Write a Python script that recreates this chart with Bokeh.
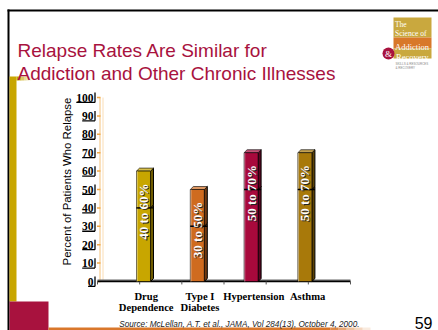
import numpy as np
from bokeh.plotting import figure
from bokeh.models import Range1d
from bokeh.core.properties import value
from bokeh.embed import file_html
from bokeh.resources import INLINE

# ---------------- data ----------------
categories = ["Drug\nDependence", "Type I\nDiabetes", "Hypertension", "Asthma"]
relapse_low = [40, 30, 50, 50]
relapse_high = [60, 50, 70, 70]
range_labels = ["40 to 60%", "30 to 50%", "50 to 70%", "50 to 70%"]
bar_colors = ["#C8A600", "#CF6B1F", "#A8093C", "#A8790A"]
y_ticks = [0, 10, 20, 30, 40, 50, 60, 70, 80, 90, 100]
y_tick_labels = [str(t) for t in y_ticks]
y_axis_label = "Percent of Patients Who Relapse"
title_lines = ["Relapse Rates Are Similar for", "Addiction and Other Chronic Illnesses"]
source_note = "Source: McLellan, A.T. et al., JAMA, Vol 284(13), October 4, 2000."
page_number = "59"

# ---------------- styles ----------------
W, H = 438, 330
CRIMSON = "#A8123E"
GOLD = "#C8A600"
ORANGE = "#D9772B"

# scale setup: category index 0 at 143 px, 53.8 px per category; value 0 at 281 px, 1.84 px per unit
X0, XS = 143.0, 53.8
Y0, YS = 281.0, 1.84
x_range = Range1d((0 - X0) / XS, (W - X0) / XS)
y_range = Range1d((Y0 - H) / YS, Y0 / YS)

p = figure(width=W, height=H, x_range=x_range, y_range=y_range,
           output_backend="svg", toolbar_location=None, min_border=0,
           x_axis_location=None, y_axis_location=None)
p.grid.visible = False
p.outline_line_color = None
p.background_fill_color = "white"
p.border_fill_color = "white"
p.extra_x_ranges = {"px": Range1d(0, W)}
p.extra_y_ranges = {"py": Range1d(H, 0)}
PG = dict(x_range_name="px", y_range_name="py")


def mix(c, t, amt):
    c = c.lstrip("#")
    r, g, b = int(c[0:2], 16), int(c[2:4], 16), int(c[4:6], 16)
    r = int(r + (t[0] - r) * amt)
    g = int(g + (t[1] - g) * amt)
    b = int(b + (t[2] - b) * amt)
    return "#%02x%02x%02x" % (r, g, b)


# ---------------- slide decorations ----------------
# black frame lines
p.quad(left=7, right=9, bottom=330, top=9, fill_color="black", line_color=None, **PG)
p.quad(left=7, right=438, bottom=11, top=9, fill_color="black", line_color=None, **PG)
# gold left strip
p.quad(left=9, right=16, bottom=301, top=76, fill_color=GOLD, line_color=None, **PG)
for i, a in enumerate([1.0, 0.8, 0.6, 0.4, 0.25, 0.12]):
    p.quad(left=16 + 2.5 * i, right=18.5 + 2.5 * i, bottom=80, top=76,
           fill_color=GOLD, fill_alpha=a, line_color=None, **PG)
# crimson square
p.quad(left=9, right=48, bottom=330, top=301, fill_color=CRIMSON, line_color=None, **PG)
# bottom orange rule with fade
p.quad(left=48, right=330, bottom=330, top=327, fill_color=ORANGE, line_color=None, **PG)
for i, a in enumerate([0.85, 0.65, 0.45, 0.3, 0.15]):
    p.quad(left=330 + 8 * i, right=338 + 8 * i, bottom=330, top=327,
           fill_color=ORANGE, fill_alpha=a, line_color=None, **PG)

# logo
LOGO_GOLD = "#C9A83E"
p.quad(left=393, right=431, bottom=37, top=17, fill_color=LOGO_GOLD, line_color=None, **PG)
p.quad(left=393, right=431, bottom=48, top=37, fill_color="#D8782A", line_color=None, **PG)
p.quad(left=393, right=431, bottom=58, top=48, fill_color=LOGO_GOLD, line_color=None, **PG)
p.scatter(x=[388], y=[53], size=12, marker="circle", fill_color=CRIMSON, line_color=None, **PG)
p.text(x=[388], y=[53.5], text=["&"], text_color="white", text_font=value("Liberation Serif"),
       text_font_size="9px", text_align="center", text_baseline="middle", **PG)
p.text(x=[394.5, 394.5], y=[24, 33], text=["The", "Science of"],
       text_color="white", text_font=value("Liberation Serif"),
       text_font_size="7.5px", text_baseline="alphabetic", **PG)
p.text(x=[394.5, 395.5], y=[46, 56.5], text=["Addiction", "Recovery"],
       text_color="white", text_font=value("Liberation Serif"),
       text_font_size="8.5px", text_baseline="alphabetic", **PG)
p.text(x=[395, 395], y=[63, 67], text=["SKILLS & RESOURCES", "& RECOVERY"],
       text_color="#888888", text_font=value("Liberation Sans"),
       text_font_size="3px", text_baseline="alphabetic", **PG)

# title
p.text(x=[17, 17], y=[50, 73], text=title_lines, text_color=CRIMSON,
       text_font=value("Liberation Sans"), text_font_size="19px",
       text_baseline="alphabetic", **PG)

# source and page number
p.text(x=[239], y=[323.5], text=[source_note], text_color="#222222",
       text_font=value("Liberation Sans"), text_font_style="italic", text_font_size="8.2px",
       text_align="center", text_baseline="alphabetic", **PG)
p.text(x=[432], y=[322], text=[page_number], text_color="black",
       text_font=value("Liberation Sans"), text_font_size="16px",
       text_align="right", text_baseline="middle", **PG)

# ---------------- chart ----------------
yt = np.array(y_ticks, dtype=float)
# back wall lines
p.segment(x0=[99.5], y0=[0], x1=[99.5], y1=[max(y_ticks)], line_color="#F5C27A", line_width=1, x_range_name="px")
p.segment(x0=[102.5], y0=[0], x1=[102.5], y1=[max(y_ticks)], line_color="#FADDB5", line_width=1, x_range_name="px")
p.segment(x0=[96.5] * len(yt), y0=yt, x1=[100] * len(yt), y1=yt, line_color="#F0A848", line_width=1.5,
          x_range_name="px")

# y tick labels with 3D brackets
p.text(x=[93] * len(yt), y=yt, text=y_tick_labels, text_color="black",
       text_font=value("Liberation Serif"), text_font_style="bold", text_font_size="11.5px",
       text_align="right", text_baseline="middle", x_range_name="px")
hb = 2.7
lab_w = np.array([5.9 * len(s) for s in y_tick_labels])
p.segment(x0=[94.5] * len(yt), y0=yt - hb, x1=[94.5] * len(yt), y1=yt + hb,
          line_color="black", line_width=1.3, x_range_name="px")
p.segment(x0=93.5 - lab_w, y0=yt - hb, x1=[94.5] * len(yt), y1=yt - hb,
          line_color="black", line_width=1.3, x_range_name="px")

# y axis title
p.text(x=[66], y=[181], text=[y_axis_label], angle=np.pi / 2, text_color="black",
       text_font=value("Liberation Sans"), text_font_size="11.4px",
       text_align="center", text_baseline="middle", **PG)

# floor
p.quad(left=[97], right=[350], bottom=[0], top=[1.1], fill_color="#666666", line_color=None, x_range_name="px")
p.segment(x0=[97], y0=[0], x1=[350], y1=[0], line_color="black", line_width=1.3, x_range_name="px")
ft = np.linspace(97, 350, 7)
p.segment(x0=ft, y0=[0] * len(ft), x1=ft, y1=[-1.6] * len(ft), line_color="#555555", line_width=1,
          x_range_name="px")

# bars (3D stacked: 0..low and low..high)
xc = np.arange(len(categories), dtype=float)
w, d, dy = 0.13, 0.056, 1.63
lo = np.array(relapse_low, dtype=float)
hi = np.array(relapse_high, dtype=float)
dark = [mix(c, (0, 0, 0), 0.45) for c in bar_colors]
light = [mix(c, (255, 255, 255), 0.3) for c in bar_colors]

for b0, b1 in [(np.zeros_like(lo), lo), (lo, hi)]:
    side_xs = [[x + w, x + w + d, x + w + d, x + w] for x in xc]
    side_ys = [[a, a + dy, b + dy, b] for a, b in zip(b0, b1)]
    p.patches(xs=side_xs, ys=side_ys, fill_color=dark, line_color="black", line_width=1)
    top_xs = [[x - w, x - w + d, x + w + d, x + w] for x in xc]
    top_ys = [[b, b + dy, b + dy, b] for b in b1]
    p.patches(xs=top_xs, ys=top_ys, fill_color=light, line_color="black", line_width=0.6)
    p.quad(left=xc - w, right=xc + w, bottom=b0, top=b1, fill_color=bar_colors,
           line_color="black", line_width=0.6)
# highlight on left edges
p.segment(x0=xc - w + 0.012, y0=np.zeros_like(lo), x1=xc - w + 0.012, y1=hi,
          line_color="white", line_alpha=0.45, line_width=1)
# division line
p.segment(x0=xc - w, y0=lo, x1=xc + w + d, y1=lo, line_color="black", line_width=1.4)

# range labels (rotated)
lab_y = lo - 2
p.text(x=xc + 0.018, y=lab_y - 0.5, text=range_labels, angle=np.pi / 2, text_color="#222222",
       text_font=value("Liberation Serif"), text_font_style="bold", text_font_size="13px",
       text_align="center", text_baseline="middle")
p.text(x=xc, y=lab_y, text=range_labels, angle=np.pi / 2, text_color="white",
       text_font=value("Liberation Serif"), text_font_style="bold", text_font_size="13px",
       text_align="center", text_baseline="middle")

# category labels
line1 = [c.split("\n")[0] for c in categories]
line2 = [c.split("\n")[1] if "\n" in c else "" for c in categories]
for txt, yy in [(line1, (Y0 - 295.5) / YS), (line2, (Y0 - 306.5) / YS)]:
    p.text(x=xc + 0.05, y=[yy] * len(xc), text=txt, text_color="black",
           text_font=value("Liberation Serif"), text_font_style="bold", text_font_size="10.6px",
           text_align="center", text_baseline="alphabetic")

open("out.html", "w").write(file_html(p, INLINE))
